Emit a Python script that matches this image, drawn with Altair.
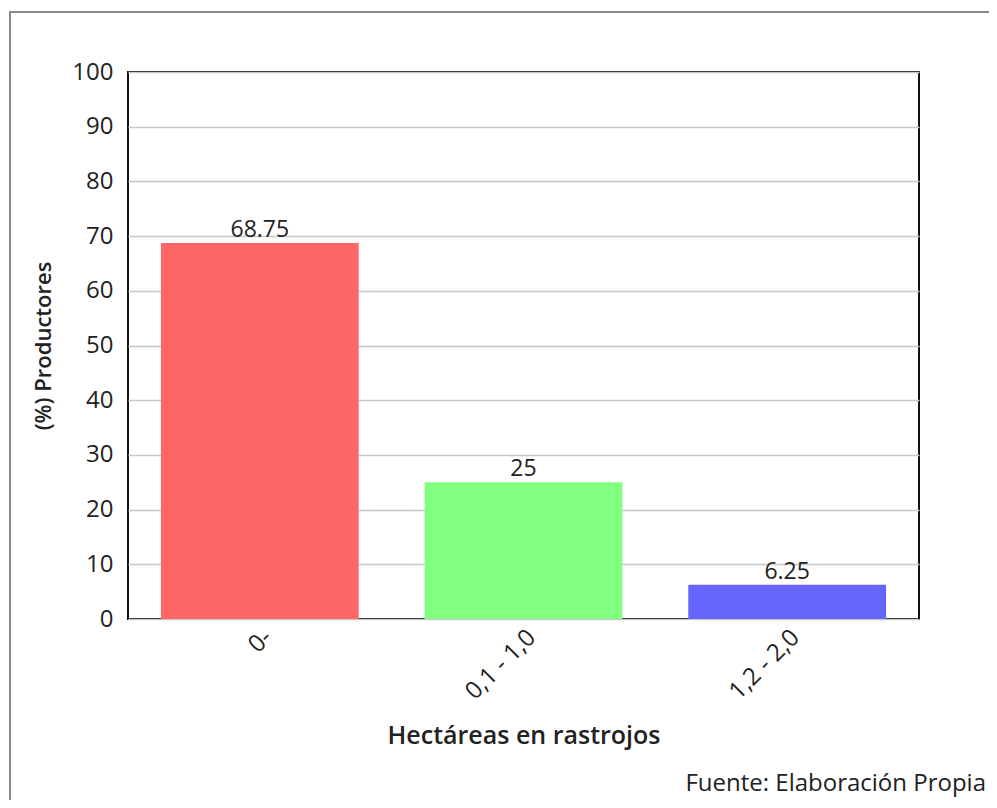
import altair as alt
import pandas as pd

categories = ["0-", "0,1 - 1,0", "1,2 - 2,0"]
values = [68.75, 25, 6.25]
labels = ["68.75", "25", "6.25"]
colors = ["#FF6666", "#80FF80", "#6666FF"]

df = pd.DataFrame({"cat": categories, "val": values, "lab": labels})
one = pd.DataFrame({"a": [0]})

FONT = "Open Sans"

x_enc = alt.X("cat:N", sort=categories, title="Hectáreas en rastrojos",
              scale=alt.Scale(paddingInner=0.25, paddingOuter=0.125),
              axis=alt.Axis(labelAngle=-45, labelFontSize=24, labelColor="#222",
                            labelFont=FONT, ticks=False, domain=False, labelPadding=6,
                            titleFontSize=25, titleFont=FONT, titleFontWeight=600,
                            titleColor="#222", titlePadding=20, grid=False))
y_enc = alt.Y("val:Q", title="(%) Productores",
              scale=alt.Scale(domain=[0, 100]),
              axis=alt.Axis(values=list(range(0, 101, 10)), labelFontSize=24,
                            labelColor="#222", labelFont=FONT, ticks=False, domain=False,
                            labelPadding=15, titleFontSize=22, titleFont=FONT,
                            titleFontWeight=600, titleColor="#222", titlePadding=16,
                            gridColor="#c8c8c8", gridWidth=1.5))

frame = alt.Chart(one).mark_rect(fillOpacity=0, stroke="#8a8a8a", strokeWidth=2).encode(
    x=alt.value(-118), x2=alt.value(1000), y=alt.value(-60), y2=alt.value(1000))

bars = alt.Chart(df).mark_bar().encode(
    x=x_enc, y=y_enc,
    color=alt.Color("cat:N", sort=categories,
                    scale=alt.Scale(domain=categories, range=colors), legend=None))

text = alt.Chart(df).mark_text(baseline="bottom", dy=-1, fontSize=23, font=FONT,
                               color="#222").encode(
    x=alt.X("cat:N", sort=categories), y="val:Q", text="lab:N")

fuente = alt.Chart(one).mark_text(align="right", baseline="alphabetic", fontSize=24,
                                  font=FONT, color="#222").encode(
    x=alt.value(858), y=alt.value(719), text=alt.value("Fuente: Elaboración Propia"))

chart = alt.layer(frame, bars, text, fuente).properties(
    width=791, height=547,
    background="white",
    autosize=alt.AutoSizeParams(type="none"),
    padding={"left": 120, "top": 64, "right": 70, "bottom": 181},
).configure_view(stroke="#111", strokeWidth=2)

chart.save("out.html", embed_options={"renderer": "svg", "actions": False})
